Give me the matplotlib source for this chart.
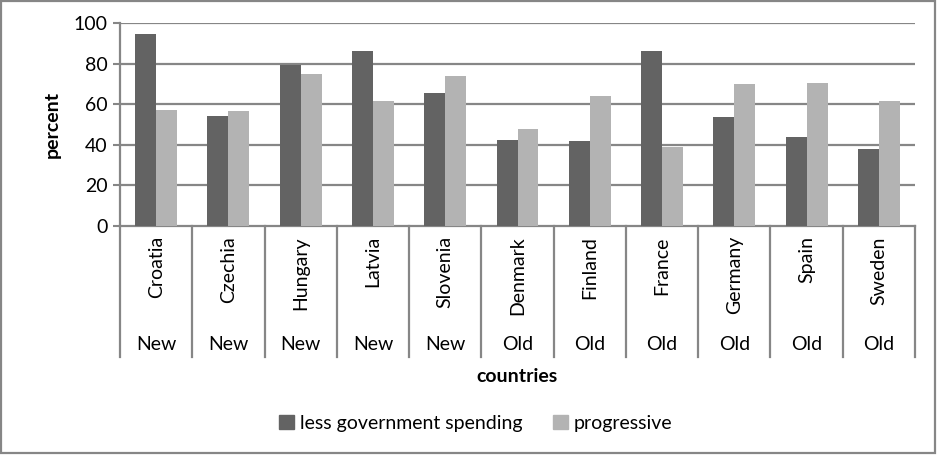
import numpy as np
import matplotlib.pyplot as plt
from matplotlib.patches import Rectangle, Patch
import matplotlib.transforms as mtransforms

plt.rcParams['font.family'] = ['Lato', 'DejaVu Sans']

countries = ['Croatia', 'Czechia', 'Hungary', 'Latvia', 'Slovenia',
             'Denmark', 'Finland', 'France', 'Germany', 'Spain', 'Sweden']
groups = ['New', 'New', 'New', 'New', 'New',
          'Old', 'Old', 'Old', 'Old', 'Old', 'Old']
less_spending = [94.6, 54.2, 79.3, 86.2, 65.5, 42.4, 41.9, 86.2, 53.7, 43.8, 37.9]
progressive = [57.1, 56.7, 74.9, 61.6, 73.9, 47.8, 64.0, 38.9, 70.0, 70.4, 61.6]

dark = '#636363'
light = '#b3b3b3'
grid = '#868686'

W, H = 941, 455
fig = plt.figure(figsize=(W / 100, H / 100), dpi=100)
ax = fig.add_axes([120 / W, 1 - 226 / H, 795 / W, 203 / H])

x = np.arange(len(countries))
w = 0.29
ax.bar(x - w / 2, less_spending, w, color=dark, zorder=3)
ax.bar(x + w / 2, progressive, w, color=light, zorder=3)

ax.set_xlim(-0.5, len(countries) - 0.5)
ax.set_ylim(0, 100)
ax.set_yticks(range(0, 101, 20))
for v in range(20, 101, 20):
    ax.axhline(v, color=grid, lw=1.6, zorder=1)
ax.tick_params(axis='y', labelsize=14, length=5, width=1.5, color=grid, pad=4)
ax.set_xticks([])
for s in ['top', 'right']:
    ax.spines[s].set_visible(False)
for s in ['left', 'bottom']:
    ax.spines[s].set_color(grid)
    ax.spines[s].set_linewidth(1.6)

# multi-level category axis
trans = mtransforms.blended_transform_factory(ax.transData, ax.transAxes)
for b in np.arange(-0.5, len(countries), 1.0):
    ax.plot([b, b], [0, -0.645], color=grid, lw=1.6, transform=trans, clip_on=False)
for i, (c, g) in enumerate(zip(countries, groups)):
    ax.text(i, -0.05, c, rotation=90, ha='center', va='top', fontsize=14, transform=trans)
    ax.text(i, -0.586, g, ha='center', va='center', fontsize=14, transform=trans)

fig.text(52 / W, 1 - 124 / H, 'percent', rotation=90, ha='center', va='center',
         fontsize=14, fontweight='bold')
fig.text(517 / W, 1 - 376 / H, 'countries', ha='center', va='center',
         fontsize=14, fontweight='bold')

handles = [Patch(color=dark, label='less government spending'),
           Patch(color=light, label='progressive')]
fig.legend(handles=handles, loc='center', bbox_to_anchor=(476 / W, 1 - 423 / H), ncol=2,
           frameon=False, fontsize=14, handlelength=0.75, handleheight=0.75,
           handletextpad=0.3, columnspacing=1.6)

fig.patches.append(Rectangle((1 / W, 2 / H), 934 / W, 452 / H, transform=fig.transFigure,
                             fill=False, edgecolor=grid, lw=1.6))

plt.savefig('out.png', dpi=100)
